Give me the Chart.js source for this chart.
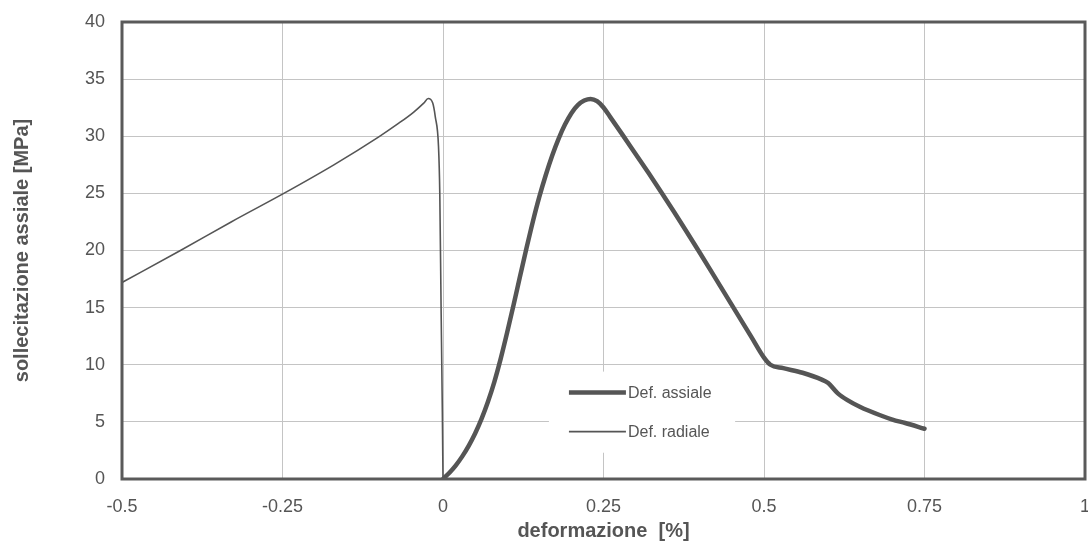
<!DOCTYPE html>
<html>
<head>
<meta charset="utf-8">
<script src="https://cdn.jsdelivr.net/npm/chart.js@4"></script>
<style>
  html, body { margin: 0; padding: 0; background: #fff; }
  #wrap { width: 1088px; height: 548px; }
</style>
</head>
<body>
<div id="wrap"><canvas id="chart" width="1088" height="548"></canvas></div>
<script>
// Stress vs strain curves (axial and radial strain)
const axialStrain = [0, 0.01, 0.02, 0.03, 0.04, 0.05, 0.06, 0.07, 0.08, 0.09, 0.1, 0.11, 0.12, 0.13, 0.14, 0.15, 0.16, 0.17, 0.18, 0.19, 0.2, 0.21, 0.22, 0.23, 0.24, 0.25, 0.26, 0.28, 0.3, 0.32, 0.34, 0.36, 0.38, 0.4, 0.42, 0.44, 0.46, 0.48, 0.5, 0.51, 0.53, 0.56, 0.59, 0.6, 0.615, 0.63, 0.65, 0.68, 0.7, 0.72, 0.75];
const axialStress = [0, 0.55, 1.2, 1.98, 2.9, 3.98, 5.26, 6.76, 8.51, 10.56, 12.84, 15.26, 17.74, 20.19, 22.54, 24.69, 26.59, 28.29, 29.77, 31.02, 32.02, 32.72, 33.12, 33.27, 33.07, 32.52, 31.72, 30.1, 28.45, 26.8, 25.1, 23.37, 21.6, 19.8, 17.98, 16.14, 14.3, 12.46, 10.62, 10.0, 9.7, 9.3, 8.7, 8.4, 7.5, 6.9, 6.3, 5.6, 5.2, 4.9, 4.4];

const radialStrain = [-0.5, -0.409, -0.33, -0.248, -0.17, -0.1, -0.07, -0.046, -0.03, -0.023, -0.016, -0.012, -0.007, -0.005, -0.003, -0.001, 0];
const radialStress = [17.2, 20.0, 22.5, 25.0, 27.5, 29.95, 31.1, 32.1, 32.9, 33.3, 32.9, 31.7, 29.1, 25.0, 15.1, 5.8, 0];

const xTicks = { min: -0.5, max: 1, step: 0.25 };
const yTicks = { min: 0, max: 40, step: 5 };

const ink = '#555555';
const fontFamily = '"Liberation Sans", Arial, sans-serif';

const toPoints = (xs, ys) => xs.map((x, i) => ({ x: x, y: ys[i] }));

// White box with line samples, sitting inside the plot area
const insideLegend = {
  id: 'insideLegend',
  beforeDatasetsDraw(chart) {
    const ctx = chart.ctx;
    const xs = chart.scales.x, ys = chart.scales.y;
    const left = xs.getPixelForValue(0.165);
    const right = xs.getPixelForValue(0.455);
    const top = ys.getPixelForValue(9.4);
    const bottom = ys.getPixelForValue(2.3);
    ctx.save();
    ctx.fillStyle = '#fff';
    ctx.fillRect(left, top, right - left, bottom - top);
    ctx.font = '16px ' + fontFamily;
    ctx.textBaseline = 'middle';
    chart.data.datasets.forEach((ds, i) => {
      const y = top + 21 + i * 39;
      ctx.strokeStyle = ds.borderColor;
      ctx.lineWidth = ds.borderWidth;
      ctx.beginPath();
      ctx.moveTo(left + 20, y);
      ctx.lineTo(left + 77, y);
      ctx.stroke();
      ctx.fillStyle = ink;
      ctx.fillText(ds.label, left + 79, y + 1);
    });
    ctx.restore();
  }
};

// Heavy frame around the plot area
const plotFrame = {
  id: 'plotFrame',
  afterDraw(chart) {
    const a = chart.chartArea;
    const ctx = chart.ctx;
    ctx.save();
    ctx.strokeStyle = '#5a5a5a';
    ctx.lineWidth = 3;
    ctx.strokeRect(a.left, a.top, a.right - a.left, a.bottom - a.top);
    ctx.restore();
  }
};

new Chart(document.getElementById('chart'), {
  type: 'scatter',
  data: {
    datasets: [
      {
        label: 'Def. assiale',
        data: toPoints(axialStrain, axialStress),
        showLine: true,
        borderColor: ink,
        borderWidth: 4.5,
        pointRadius: 0,
        cubicInterpolationMode: 'monotone',
        borderCapStyle: 'round',
        borderJoinStyle: 'round'
      },
      {
        label: 'Def. radiale',
        data: toPoints(radialStrain, radialStress),
        showLine: true,
        borderColor: ink,
        borderWidth: 1.6,
        pointRadius: 0,
        cubicInterpolationMode: 'monotone',
        borderJoinStyle: 'round'
      }
    ]
  },
  options: {
    responsive: false,
    animation: false,
    layout: { padding: { top: 22, right: 3, left: 0, bottom: 0 } },
    plugins: {
      legend: { display: false },
      tooltip: { enabled: false }
    },
    scales: {
      x: {
        type: 'linear',
        min: xTicks.min,
        max: xTicks.max,
        afterFit: (s) => {
          s.height = 69;
          s.paddingLeft = 0;
          s.paddingRight = 0;
        },
        ticks: {
          stepSize: xTicks.step,
          color: ink,
          font: { family: fontFamily, size: 18 },
          padding: 17,
          maxRotation: 0,
          callback: (v) => String(v)
        },
        grid: { color: '#c4c4c4', lineWidth: 1, drawTicks: false },
        border: { display: false },
        title: {
          display: true,
          text: 'deformazione  [%]',
          color: ink,
          font: { family: fontFamily, size: 20, weight: 'bold' },
          padding: { top: 0, bottom: 5 }
        }
      },
      y: {
        type: 'linear',
        min: yTicks.min,
        max: yTicks.max,
        afterFit: (s) => {
          s.width = 122;
          s.paddingTop = 0;
          s.paddingBottom = 0;
        },
        ticks: {
          stepSize: yTicks.step,
          color: ink,
          font: { family: fontFamily, size: 18 },
          padding: 17,
          callback: (v) => String(v)
        },
        grid: { color: '#c4c4c4', lineWidth: 1, drawTicks: false },
        border: { display: false },
        title: {
          display: true,
          text: 'sollecitazione assiale [MPa]',
          color: ink,
          font: { family: fontFamily, size: 20, weight: 'bold' },
          padding: { top: 10, bottom: 0 }
        }
      }
    }
  },
  plugins: [insideLegend, plotFrame]
});
</script>
</body>
</html>
